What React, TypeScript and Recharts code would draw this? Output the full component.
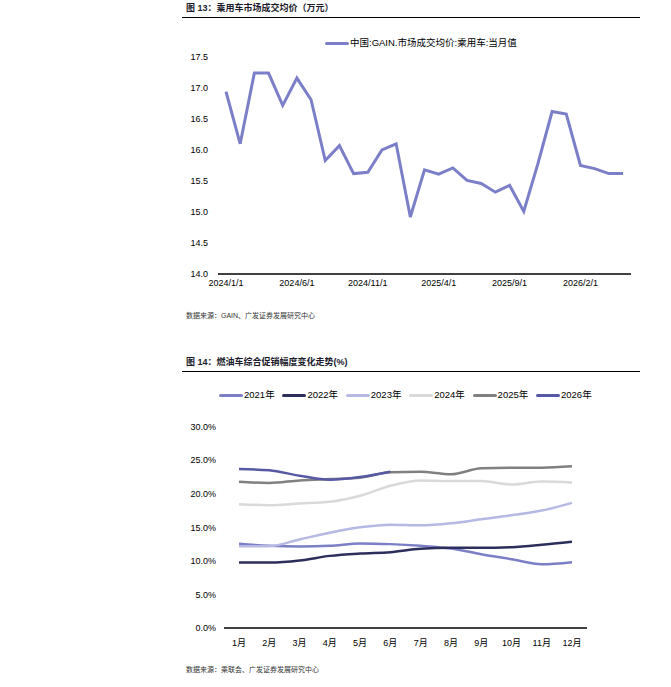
import { LineChart, Line, XAxis, YAxis } from "recharts";

const FONT = '"Liberation Sans", Arial, "Noto Sans CJK SC", sans-serif';

// 图13: monthly dates and avg transaction price (万元)
const months13 = [
  "2024/1/1", "2024/2/1", "2024/3/1", "2024/4/1", "2024/5/1", "2024/6/1",
  "2024/7/1", "2024/8/1", "2024/9/1", "2024/10/1", "2024/11/1", "2024/12/1",
  "2025/1/1", "2025/2/1", "2025/3/1", "2025/4/1", "2025/5/1", "2025/6/1",
  "2025/7/1", "2025/8/1", "2025/9/1", "2025/10/1", "2025/11/1", "2025/12/1",
  "2026/1/1", "2026/2/1", "2026/3/1", "2026/4/1", "2026/5/1",
];
const price = [
  16.94, 16.1, 17.24, 17.24, 16.72, 17.16, 16.81, 15.83, 16.07, 15.62,
  15.64, 16.0, 16.1, 14.92, 15.68, 15.61, 15.71, 15.51, 15.46, 15.32,
  15.43, 15.01, 15.78, 16.62, 16.58, 15.75, 15.7, 15.62, 15.62,
];
const priceTicks = [14.0, 14.5, 15.0, 15.5, 16.0, 16.5, 17.0, 17.5];

// 图14: promo discount rate by month (%)
const months14 = ["1月", "2月", "3月", "4月", "5月", "6月", "7月", "8月", "9月", "10月", "11月", "12月"];
const y2021 = [12.55, 12.25, 12.15, 12.25, 12.6, 12.5, 12.25, 11.85, 11.0, 10.25, 9.5, 9.8];
const y2022 = [9.75, 9.75, 10.05, 10.75, 11.1, 11.3, 11.8, 11.95, 11.95, 12.05, 12.4, 12.85];
const y2023 = [12.2, 12.2, 13.2, 14.2, 15.0, 15.4, 15.3, 15.6, 16.2, 16.8, 17.5, 18.65];
const y2024 = [18.45, 18.3, 18.55, 18.8, 19.7, 21.2, 22.0, 21.9, 21.9, 21.4, 21.85, 21.7];
const y2025 = [21.8, 21.6, 22.0, 22.2, 22.4, 23.2, 23.3, 22.9, 23.8, 23.9, 23.9, 24.1];
const y2026 = [23.7, 23.5, 22.7, 22.1, 22.5, 23.3];
const pctTicks = [0, 5, 10, 15, 20, 25, 30];

const series14 = [
  { key: "y2021", name: "2021年", color: "#7b7fc6", values: y2021 },
  { key: "y2022", name: "2022年", color: "#2c2e5c", values: y2022 },
  { key: "y2023", name: "2023年", color: "#b5b9e3", values: y2023 },
  { key: "y2024", name: "2024年", color: "#d9d9d9", values: y2024 },
  { key: "y2025", name: "2025年", color: "#808080", values: y2025 },
  { key: "y2026", name: "2026年", color: "#5659a3", values: y2026 },
];

const data13 = months13.map((m, i) => ({ month: m, price: price[i] }));
const data14 = months14.map((m, i) => {
  const row: Record<string, string | number | undefined> = { month: m };
  series14.forEach((s) => {
    row[s.key] = s.values[i];
  });
  return row;
});

const tick = { fontSize: 9, fill: "#000", fontFamily: FONT };

function Title({ top, text }: { top: number; text: string }) {
  return (
    <>
      <div
        style={{
          position: "absolute",
          left: 186,
          top,
          fontSize: 9,
          fontWeight: "bold",
          fontFamily: FONT,
          color: "#1a1a2a",
          whiteSpace: "nowrap",
          lineHeight: "12px",
        }}
      >
        {text}
      </div>
      <div style={{ position: "absolute", left: 182, top: top + 15, width: 458, height: 1.3, background: "#000" }} />
    </>
  );
}

function Source({ top, text }: { top: number; text: string }) {
  return (
    <div
      style={{
        position: "absolute",
        left: 186,
        top,
        fontSize: 7,
        fontFamily: FONT,
        color: "#333",
        whiteSpace: "nowrap",
        lineHeight: "9px",
      }}
    >
      {text}
    </div>
  );
}

function LegendItem({ left, top, color, label, lineW }: { left: number; top: number; color: string; label: string; lineW: number }) {
  return (
    <div style={{ position: "absolute", left, top, display: "flex", alignItems: "center", whiteSpace: "nowrap" }}>
      <div style={{ width: lineW, height: 3, background: color, borderRadius: 1.5 }} />
      <span style={{ fontSize: 9.5, fontFamily: FONT, color: "#000", marginLeft: 1, lineHeight: "12px" }}>{label}</span>
    </div>
  );
}

export default function App() {
  return (
    <div style={{ position: "absolute", left: 0, top: 0, width: 671, height: 687, background: "#fff", overflow: "hidden" }}>
      <Title top={2} text="图 13：乘用车市场成交均价（万元）" />
      <LegendItem left={325} top={37} color="#7b7fc8" label="中国:GAIN.市场成交均价:乘用车:当月值" lineW={24} />
      <div style={{ position: "absolute", left: 180, top: 40 }}>
        <LineChart width={460} height={260} data={data13} margin={{ top: 17, right: 9, bottom: 6, left: 0 }}>
          <XAxis
            dataKey="month"
            interval={4}
            tick={tick}
            tickLine={false}
            tickSize={0}
            tickMargin={6}
            height={20}
            padding={{ left: 8, right: 8 }}
            axisLine={{ stroke: "#000", strokeWidth: 1.3 }}
          />
          <YAxis
            domain={[14, 17.5]}
            ticks={priceTicks}
            tickFormatter={(v: number) => v.toFixed(1)}
            tick={tick}
            tickLine={false}
            tickSize={0}
            tickMargin={10}
            axisLine={false}
            width={38}
          />
          <Line
            dataKey="price"
            stroke="#7b7fc8"
            strokeWidth={3}
            dot={false}
            type="linear"
            isAnimationActive={false}
          />
        </LineChart>
      </div>
      <Source top={311} text="数据来源：GAIN、广发证券发展研究中心" />

      <Title top={356} text="图 14：燃油车综合促销幅度变化走势(%)" />
      {series14.map((s, i) => (
        <LegendItem key={s.key} left={219 + i * 63.4} top={389} color={s.color} label={s.name} lineW={24} />
      ))}
      <div style={{ position: "absolute", left: 180, top: 410 }}>
        <LineChart width={460} height={250} data={data14} margin={{ top: 16.7, right: 53, bottom: 7, left: 0 }}>
          <XAxis
            dataKey="month"
            interval={0}
            tick={tick}
            tickLine={false}
            tickSize={0}
            tickMargin={12}
            height={25}
            padding={{ left: 15, right: 15 }}
            axisLine={{ stroke: "#000", strokeWidth: 1.3 }}
          />
          <YAxis
            domain={[0, 30]}
            ticks={pctTicks}
            tickFormatter={(v: number) => `${v.toFixed(1)}%`}
            tick={tick}
            tickLine={false}
            tickSize={0}
            tickMargin={8}
            axisLine={false}
            width={44}
          />
          {series14.map((s) => (
            <Line
              key={s.key}
              dataKey={s.key}
              name={s.name}
              stroke={s.color}
              strokeWidth={2.5}
              dot={false}
              type="monotone"
              connectNulls={false}
              isAnimationActive={false}
            />
          ))}
        </LineChart>
      </div>
      <Source top={665} text="数据来源：乘联会、广发证券发展研究中心" />
    </div>
  );
}
